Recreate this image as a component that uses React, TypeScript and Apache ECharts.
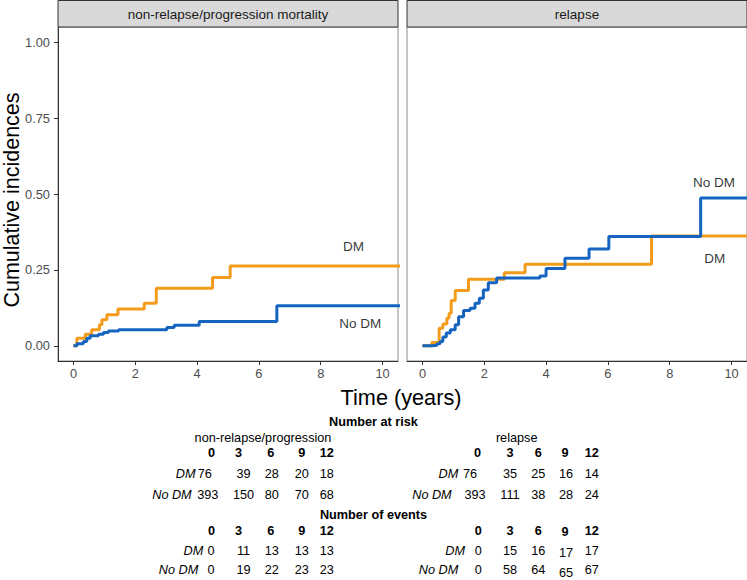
import React, { useEffect, useRef } from "react";
import * as echarts from "echarts";

// ---- data ----
const panelTitles = ["non-relapse/progression mortality", "relapse"];
const xTicks = [0, 2, 4, 6, 8, 10];
const yTicks = [0, 0.25, 0.5, 0.75, 1];

const nrmTimeDM = [0, 0.11, 0.38, 0.59, 0.84, 0.92, 1.08, 1.44, 2.29, 2.68, 4.5, 5.07, 12];
const nrmCifDM = [0, 0.025, 0.038, 0.053, 0.069, 0.086, 0.102, 0.121, 0.14, 0.19, 0.225, 0.263, 0.263];
const nrmTimeNoDM = [0, 0.11, 0.32, 0.43, 0.54, 0.81, 0.97, 1.13, 1.46, 3.02, 3.26, 4.07, 6.58, 12];
const nrmCifNoDM = [0, 0.007, 0.014, 0.025, 0.033, 0.038, 0.044, 0.049, 0.053, 0.06, 0.068, 0.08, 0.132, 0.132];

const relTimeDM = [0, 0.3, 0.54, 0.66, 0.79, 0.86, 0.93, 1.06, 1.49, 2.65, 3.32, 7.41, 12];
const relCifDM = [0, 0.011, 0.058, 0.072, 0.091, 0.107, 0.149, 0.182, 0.219, 0.241, 0.269, 0.362, 0.362];
const relTimeNoDM = [0, 0.3, 0.47, 0.57, 0.66, 0.77, 0.9, 1.06, 1.17, 1.33, 1.54, 1.7, 1.84, 1.97, 2.13, 2.4, 3.8, 4.0, 4.61, 5.39, 6.03, 9.0, 12];
const relCifNoDM = [0, 0.002, 0.007, 0.014, 0.029, 0.042, 0.053, 0.069, 0.096, 0.116, 0.124, 0.14, 0.157, 0.184, 0.208, 0.223, 0.23, 0.255, 0.288, 0.319, 0.36, 0.487, 0.487];

// curve label positions (data coordinates)
const nrmLabels = [
  { name: "DM", value: [9.06, 0.327] },
  { name: "No DM", value: [9.28, 0.072] },
];
const relLabels = [
  { name: "No DM", value: [9.43, 0.538] },
  { name: "DM", value: [9.46, 0.288] },
];

// risk table
const tableTimes = ["0", "3", "6", "9", "12"];
const groupNames = ["DM", "No DM"];
const nrmRiskDM = [76, 39, 28, 20, 18];
const nrmRiskNoDM = [393, 150, 80, 70, 68];
const relRiskDM = [76, 35, 25, 16, 14];
const relRiskNoDM = [393, 111, 38, 28, 24];
const nrmEventsDM = [0, 11, 13, 13, 13];
const nrmEventsNoDM = [0, 19, 22, 23, 23];
const relEventsDM = [0, 15, 16, 17, 17];
const relEventsNoDM = [0, 58, 64, 65, 67];

const ORANGE = "#F39C1B";
const BLUE = "#1565C0";
const FONT = "'Liberation Sans', Arial, Helvetica, sans-serif";

function zip(t: number[], v: number[]) {
  return t.map((x, i) => [x, v[i]]);
}

export default function App() {
  const ref = useRef<HTMLDivElement>(null);

  useEffect(() => {
    if (!ref.current) return;
    const chart = echarts.init(ref.current, null, { renderer: "svg" });

    const grids = [
      { left: 58, top: 27, width: 340, height: 334 },
      { left: 407, top: 27, width: 340, height: 334 },
    ];

    const xAxes = grids.map((_, i) => ({
      type: "value",
      gridIndex: i,
      min: -0.5,
      max: 10.5,
      splitLine: { show: false },
      axisLine: { show: true, onZero: false, lineStyle: { color: "#333333", width: 1 } },
      axisTick: { show: true, length: 4, customValues: xTicks, lineStyle: { color: "#333333" } },
      axisLabel: {
        customValues: xTicks,
        color: "#4D4D4D",
        fontSize: 12.8,
        fontFamily: FONT,
        margin: 6,
      },
    }));

    const yAxes = grids.map((_, i) => ({
      type: "value",
      gridIndex: i,
      min: -0.05,
      max: 1.05,
      splitLine: { show: false },
      axisLine: { show: i === 0, onZero: false, lineStyle: { color: "#333333", width: 1 } },
      axisTick: { show: i === 0, length: 4, customValues: yTicks, lineStyle: { color: "#333333" } },
      axisLabel: {
        show: i === 0,
        customValues: yTicks,
        color: "#4D4D4D",
        fontSize: 12.8,
        fontFamily: FONT,
        margin: 8,
        formatter: (v: number) => v.toFixed(2),
      },
    }));

    const lineSeries = (data: number[][], color: string, gi: number) => ({
      type: "line",
      xAxisIndex: gi,
      yAxisIndex: gi,
      data,
      step: "end",
      showSymbol: false,
      symbol: "none",
      clip: true,
      lineStyle: { color, width: 3 },
      z: 3,
    });

    const labelSeries = (data: any[], gi: number) => ({
      type: "scatter",
      xAxisIndex: gi,
      yAxisIndex: gi,
      data,
      symbolSize: 1,
      itemStyle: { color: "rgba(0,0,0,0)" },
      label: {
        show: true,
        position: "inside",
        formatter: "{b}",
        color: "#000000",
        fontSize: 13.5,
        fontFamily: FONT,
      },
      z: 5,
    });

    const graphics: any[] = [];
    // strips
    grids.forEach((g, i) => {
      graphics.push({
        type: "rect",
        shape: { x: g.left, y: 0.5, width: g.width, height: 26.5 },
        style: { fill: "#D9D9D9", stroke: "#333333", lineWidth: 1 },
        z: 10,
      });
      graphics.push({
        type: "text",
        x: g.left + g.width / 2,
        y: 14.5,
        style: {
          text: panelTitles[i],
          fill: "#1A1A1A",
          fontSize: 13.5,
          fontFamily: FONT,
          align: "center",
          verticalAlign: "middle",
        },
        z: 11,
      });
    });

    // axis titles
    graphics.push({
      type: "text",
      x: 12,
      y: 200,
      rotation: Math.PI / 2,
      style: {
        text: "Cumulative incidences",
        fill: "#000000",
        fontSize: 21.5,
        fontFamily: FONT,
        align: "center",
        verticalAlign: "middle",
      },
    });
    graphics.push({
      type: "text",
      x: 401,
      y: 397,
      style: {
        text: "Time (years)",
        fill: "#000000",
        fontSize: 21.7,
        fontFamily: FONT,
        align: "center",
        verticalAlign: "middle",
      },
    });

    const txt = (text: string, x: number, y: number, opts: any = {}) => {
      graphics.push({
        type: "text",
        x,
        y,
        style: {
          text,
          fill: "#000000",
          fontSize: 12.7,
          fontFamily: FONT,
          align: opts.align || "center",
          verticalAlign: "middle",
          fontWeight: opts.bold ? "bold" : "normal",
          fontStyle: opts.italic ? "italic" : "normal",
        },
      });
    };

    // table titles
    txt("Number at risk", 373.5, 421.7, { bold: true });
    txt("Number of events", 373.5, 515, { bold: true });
    txt("non-relapse/progression", 263, 438);
    txt("relapse", 516.7, 438);

    const leftHeadX = [211.5, 238.5, 270.7, 301.7, 326.7];
    const leftValX = [243.5, 271.7, 301.7, 326.7];
    const rightValX = [510, 538.3, 566, 591.7];

    const block = (
      headY: number,
      rows: { vals: number[]; labelRight: number; firstX: number; y: number; dy?: number[] }[],
      headX: number[],
      valX: number[],
      headDy: number[] = [0, 0, 0, 0, 0]
    ) => {
      tableTimes.forEach((t, i) => txt(t, headX[i], headY + headDy[i], { bold: true }));
      rows.forEach((r, ri) => {
        txt(groupNames[ri], r.labelRight, r.y, { italic: true, align: "right" });
        r.vals.forEach((v, i) => {
          const x = i === 0 ? r.firstX : valX[i - 1];
          const dy = r.dy ? r.dy[i] : 0;
          txt(String(v), x, r.y + dy);
        });
      });
    };

    // left: number at risk
    block(
      453.3,
      [
        { vals: nrmRiskDM, labelRight: 195.5, firstX: 204.8, y: 474.3 },
        { vals: nrmRiskNoDM, labelRight: 191.7, firstX: 207.8, y: 495 },
      ],
      leftHeadX,
      leftValX
    );
    // right: number at risk
    block(
      453.3,
      [
        { vals: relRiskDM, labelRight: 458.3, firstX: 470, y: 474.3 },
        { vals: relRiskNoDM, labelRight: 451.7, firstX: 475, y: 495 },
      ],
      [477.5, 510, 538.3, 565, 591.7],
      rightValX
    );
    // left: number of events
    block(
      530.7,
      [
        { vals: nrmEventsDM, labelRight: 203.3, firstX: 211, y: 550.7 },
        { vals: nrmEventsNoDM, labelRight: 198.3, firstX: 211, y: 570 },
      ],
      leftHeadX,
      leftValX
    );
    // right: number of events
    block(
      530.7,
      [
        { vals: relEventsDM, labelRight: 465, firstX: 478.3, y: 550.7, dy: [0, 0, 0, 2.5, 0] },
        { vals: relEventsNoDM, labelRight: 458.3, firstX: 478.3, y: 570, dy: [0, 0, 0, 3.3, 0] },
      ],
      [478.3, 510, 538.3, 565, 591.7],
      rightValX,
      [0, 0, 0, 1.5, 0]
    );

    chart.setOption({
      animation: false,
      backgroundColor: "#FFFFFF",
      textStyle: { fontFamily: FONT },
      grid: grids.map((g) => ({
        ...g,
        show: true,
        borderColor: "#8C8C8C",
        borderWidth: 1,
        backgroundColor: "transparent",
        containLabel: false,
      })),
      xAxis: xAxes,
      yAxis: yAxes,
      series: [
        lineSeries(zip(nrmTimeDM, nrmCifDM), ORANGE, 0),
        lineSeries(zip(nrmTimeNoDM, nrmCifNoDM), BLUE, 0),
        lineSeries(zip(relTimeDM, relCifDM), ORANGE, 1),
        lineSeries(zip(relTimeNoDM, relCifNoDM), BLUE, 1),
        labelSeries(nrmLabels, 0),
        labelSeries(relLabels, 1),
      ],
      graphic: graphics,
    });

    return () => chart.dispose();
  }, []);

  return (
    <div
      ref={ref}
      style={{ position: "fixed", left: 0, top: 0, width: 747, height: 580, background: "#fff" }}
    />
  );
}
